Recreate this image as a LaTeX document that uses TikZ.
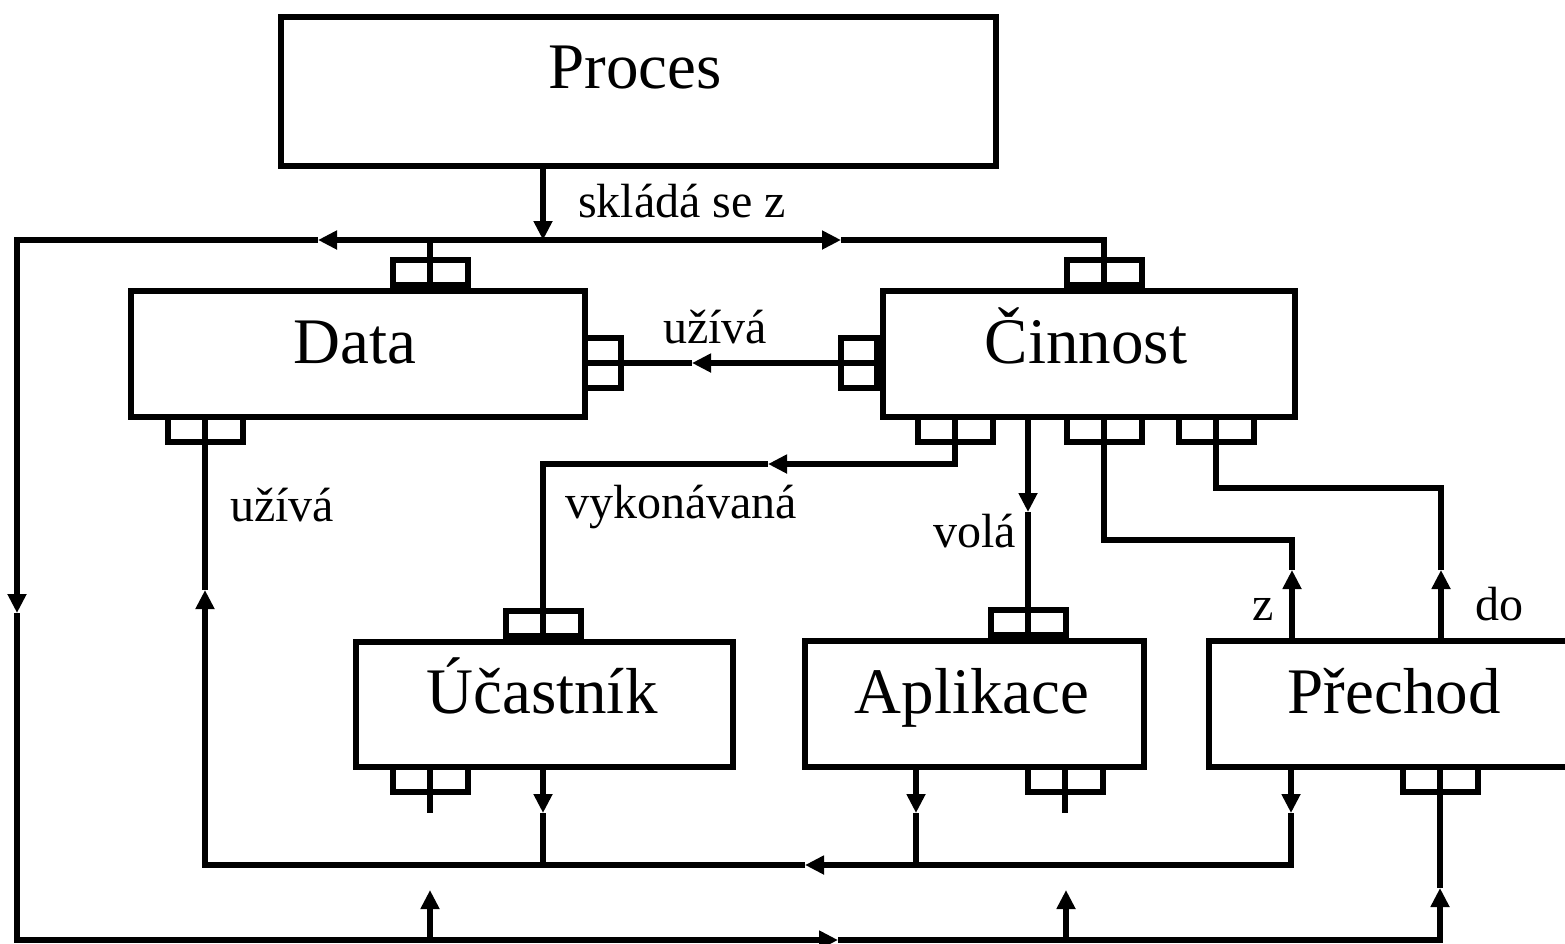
\documentclass[tikz,border=0pt]{standalone}
\usepackage{fontspec}
\setmainfont{Liberation Serif}
\usetikzlibrary{arrows.meta}
\begin{document}
\begin{tikzpicture}[x=1pt,y=-1pt, line width=6pt, line join=miter,
  box/.style={draw, line width=6pt, inner sep=0pt, anchor=north west},
  port/.style={draw, line width=6pt, inner sep=0pt, minimum width=75pt, minimum height=25pt},
  sport/.style={draw, line width=6pt, inner sep=0pt, minimum width=36pt, minimum height=50pt},
  big/.style={font=\fontsize{65}{70}\selectfont, inner sep=0pt, anchor=base},
  lbl/.style={font=\fontsize{48}{55}\selectfont, inner sep=0pt, anchor=base west},
  arr/.style={-{Triangle[length=19pt,width=18pt]}}]
\useasboundingbox (0,0) rectangle (1565,943);
\clip (0,0) rectangle (1565,943);
% boxes
\node[box, minimum width=715pt, minimum height=149pt] (proces) at (278,14) {};
\node[box, minimum width=454pt, minimum height=126pt] (data) at (128,288) {};
\node[box, minimum width=412pt, minimum height=126pt] (cin) at (880,288) {};
\node[box, minimum width=377pt, minimum height=125pt] (ucast) at (353,639) {};
\node[box, minimum width=339pt, minimum height=126pt] (apl) at (802,638) {};
\node[box, minimum width=400pt, minimum height=126pt] (pre) at (1206,638) {};
% box texts
\node[big] (procesT) at (635,88) {Proces};
\node[big] (dataT) at (355,363) {Data};
\node[big] (cinT) at (1086,363) {Činnost};
\node[big] (ucastT) at (542,713) {Účastník};
\node[big] (aplT) at (972,713) {Aplikace};
\node[big] (preT) at (1394,713) {Přechod};
% ports
\node[port, anchor=south] (dpt) at (430,288) {};
\node[port, anchor=north] (dpb) at (205,414) {};
\node[sport, anchor=west] (dpr) at (582,363) {};
\node[sport, anchor=east] (cpl) at (880,363) {};
\node[port, anchor=south] (cpt) at (1104,288) {};
\node[port, anchor=north] (cpb1) at (955,414) {};
\node[port, anchor=north] (cpb2) at (1104,414) {};
\node[port, anchor=north] (cpb3) at (1216,414) {};
\node[port, anchor=south] (upt) at (543,639) {};
\node[port, anchor=north] (upb) at (430,764) {};
\node[port, anchor=south] (apt) at (1028,638) {};
\node[port, anchor=north] (apb) at (1065,764) {};
\node[port, anchor=north] (ppb) at (1440,764) {};
% junction coordinates
\coordinate (busM) at (543,240);
\coordinate (busL) at (17,240);
\coordinate (busR) at (1104,240);
\coordinate (aL) at (318,240);
\coordinate (aR) at (841,240);
\coordinate (leftA) at (17,613);
\coordinate (botL) at (17,940);
\coordinate (botA) at (838,940);
\coordinate (botR) at (1440,940);
\coordinate (midL) at (205,865);
\coordinate (midA) at (805,865);
\coordinate (midR) at (1291,865);
% Proces -> bus
\draw[arr] (proces.south -| busM) -- (busM);
\draw[arr] (busM) -- (aL);
\draw[arr] (aL) -- (busL) -- (leftA);
\draw[arr] (busM) -- (aR);
\draw (aR) -- (busR) -- (cpt.south);
\draw (dpt.south) -- (430,240);
% outer loop
\draw[arr] (leftA) -- (botL) -- (botA);
\draw[arr] (botA) -- (botR) -- (1440,888);
\draw (1440,888) -- (ppb.north);
\draw[arr] (430,940) -- (430,890);
\draw[arr] (1066,940) -- (1066,890);
\draw (upb.north) -- (430,813);
\draw (apb.north) -- (1065,813);
% Cinnost -> Data
\draw[arr] (cpl.east) -- (692,363);
\draw (692,363) -- (dpr.west);
% vykonavana
\draw[arr] (cpb1.north) -- (955,464) -- (768,464);
\draw (768,464) -- (543,464) -- (upt.south);
% vola
\draw[arr] (cin.south -| apt.south) -- (1028,512);
\draw (1028,512) -- (apt.south);
% z
\draw[arr] (pre.north -| 1292,0) -- (1292,570);
\draw (1292,570) -- (1292,540) -- (1104,540) -- (cpb2.north);
% do
\draw[arr] (pre.north -| 1441,0) -- (1441,570);
\draw (1441,570) -- (1441,488) -- (1216,488) -- (cpb3.north);
% Data uziva
\draw[arr] (midA) -- (midL) -- (205,590);
\draw (205,590) -- (dpb.north);
\draw[arr] (ucast.south -| 543,0) -- (543,813);
\draw (543,813) -- (543,865);
\draw[arr] (apl.south -| 916,0) -- (916,813);
\draw (916,813) -- (916,865);
\draw[arr] (pre.south -| midR) -- (1291,813);
\draw[arr] (1291,813) -- (midR) -- (midA);
% labels
\node[lbl] (l1) at (575,217) {skládá se z};
\node[lbl] (l2) at (660,343) {užívá};
\node[lbl] (l3) at (227,521) {užívá};
\node[lbl] (l4) at (562,518) {vykonávaná};
\node[lbl] (l5) at (930,547) {volá};
\node[lbl] (l6) at (1249,620) {z};
\node[lbl] (l7) at (1472,620) {do};
\end{tikzpicture}
\end{document}
